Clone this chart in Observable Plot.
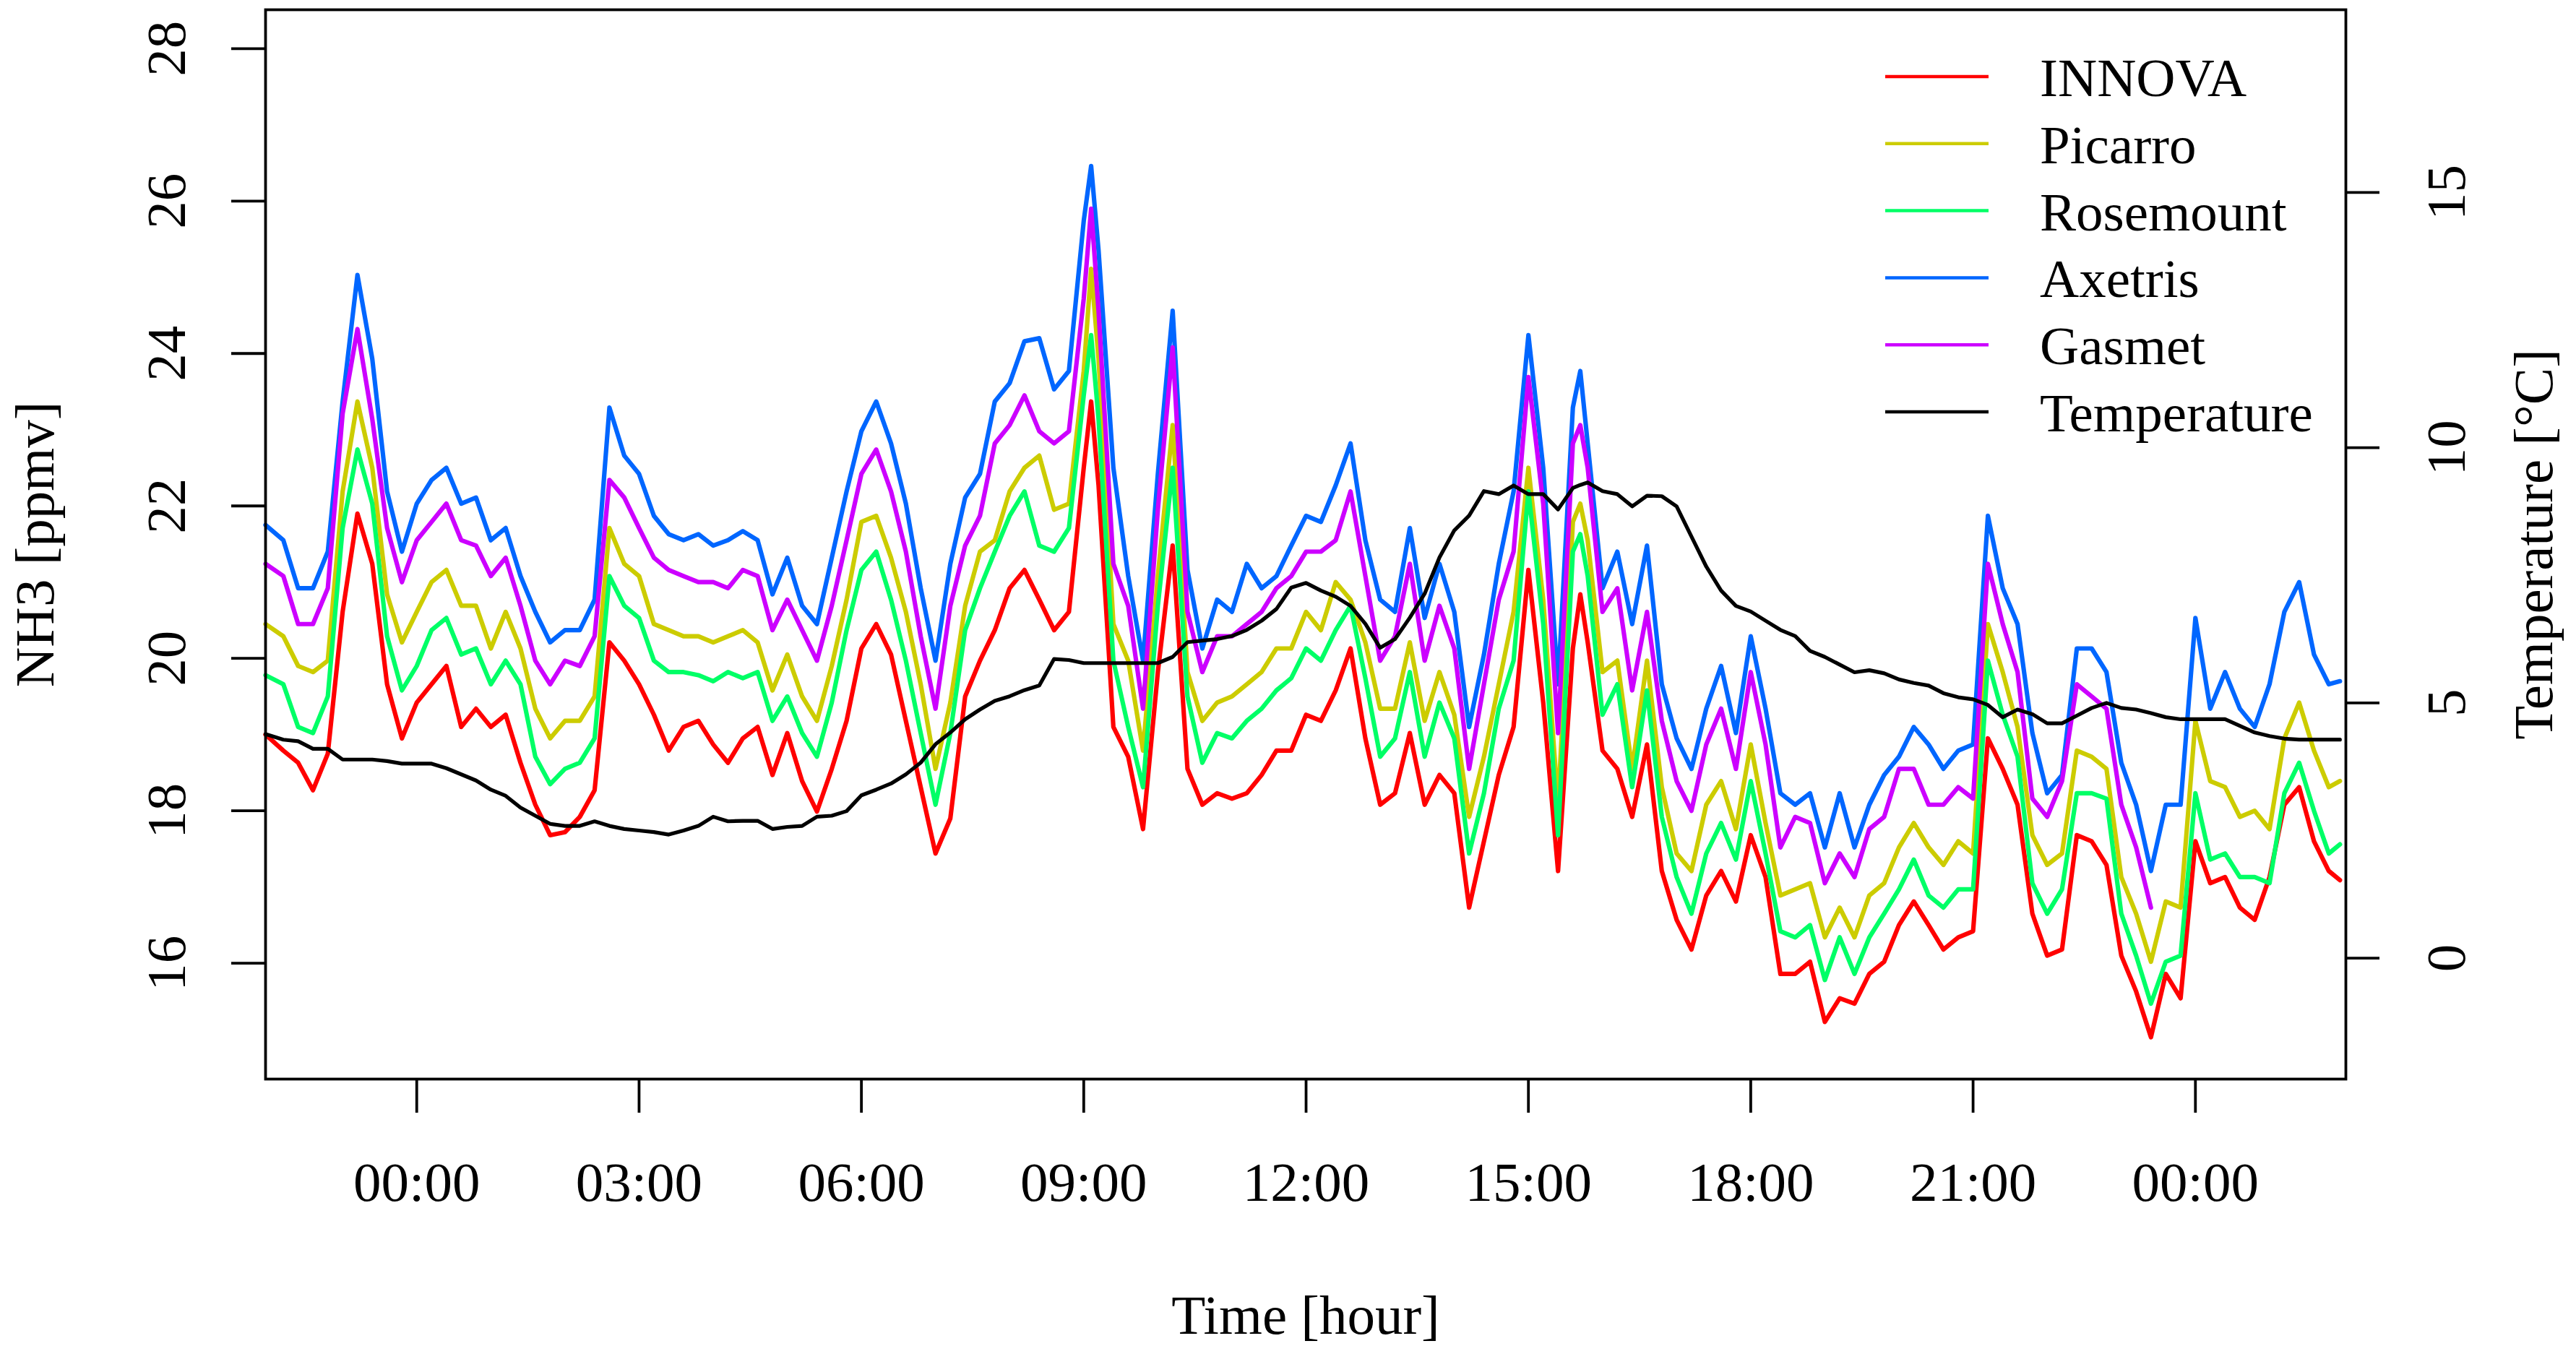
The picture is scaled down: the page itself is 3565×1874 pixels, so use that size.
<!DOCTYPE html>
<html>
<head>
<meta charset="utf-8">
<script src="https://cdn.jsdelivr.net/npm/d3@7"></script>
<script src="https://cdn.jsdelivr.net/npm/@observablehq/plot@0.6"></script>
<style>
  html, body { margin: 0; padding: 0; background: white; }
  #chart { width: 3565px; height: 1874px; }
</style>
</head>
<body>
<div id="chart"></div>
<script>
// Time in hours relative to the first midnight
const hours = [
  -2.04,-1.8,-1.6,-1.4,-1.2,-1.0,-0.8,-0.6,-0.4,-0.2,0,0.2,0.4,0.6,0.8,1.0,1.2,1.4,1.6,1.8,2.0,2.2,2.4,2.6,
  2.8,3.0,3.2,3.4,3.6,3.8,4.0,4.2,4.4,4.6,4.8,5.0,5.2,5.4,5.6,5.8,6.0,6.2,6.4,6.6,6.8,7.0,7.2,
  7.4,7.6,7.8,8.0,8.2,8.4,8.6,8.8,9.0,9.1,9.2,9.4,9.6,9.8,10.0,10.2,10.4,10.6,10.8,11.0,11.2,11.4,11.6,11.8,12.0,
  12.2,12.4,12.6,12.8,13.0,13.2,13.4,13.6,13.8,14.0,14.2,14.4,14.6,14.8,15.0,15.2,15.4,15.6,15.7,15.8,16.0,16.2,16.4,16.6,
  16.8,17.0,17.2,17.4,17.6,17.8,18.0,18.2,18.4,18.6,18.8,19.0,19.2,19.4,19.6,19.8,20.0,20.2,20.4,20.6,20.8,21.0,21.2,21.4,
  21.6,21.8,22.0,22.2,22.4,22.6,22.8,23.0,23.2,23.4,23.6,23.8,24.0,24.2,24.4,24.6,24.8,25.0,25.2,25.4,25.6,25.8,25.95
];

const innova = [
  19.0,18.79,18.63,18.27,18.75,20.61,21.9,21.24,19.66,18.95,19.42,19.66,19.9,19.1,19.34,19.1,19.26,18.63,18.08,17.68,17.72,17.92,18.27,20.21,
  19.97,19.66,19.26,18.79,19.1,19.18,18.87,18.63,18.95,19.1,18.47,19.02,18.39,17.99,18.55,19.18,20.13,20.45,20.05,19.18,18.31,17.44,17.9,
  19.5,19.97,20.37,20.92,21.16,20.77,20.37,20.61,22.5,23.37,22.27,19.1,18.71,17.76,19.82,21.48,18.55,18.08,18.23,18.16,18.23,18.47,18.79,18.79,19.26,
  19.18,19.58,20.13,18.95,18.08,18.23,19.02,18.08,18.47,18.23,16.73,17.6,18.47,19.1,21.16,19.42,17.21,20.13,20.84,20.21,18.79,18.55,17.92,18.87,
  17.21,16.57,16.18,16.89,17.21,16.81,17.68,17.13,15.86,15.86,16.02,15.23,15.54,15.47,15.86,16.02,16.5,16.81,16.5,16.18,16.34,16.42,18.95,18.55,
  18.08,16.65,16.1,16.18,17.68,17.6,17.29,16.1,15.63,15.03,15.86,15.54,17.6,17.05,17.13,16.73,16.57,17.13,18.08,18.31,17.6,17.21,17.09
];

const picarro = [
  20.45,20.29,19.9,19.82,19.97,22.19,23.37,22.5,20.84,20.21,20.61,21.0,21.16,20.69,20.69,20.13,20.61,20.13,19.34,18.95,19.18,19.18,19.5,21.71,
  21.24,21.08,20.45,20.37,20.29,20.29,20.21,20.29,20.37,20.21,19.58,20.05,19.5,19.18,19.9,20.77,21.79,21.87,21.32,20.61,19.66,18.55,19.42,
  20.69,21.40,21.55,22.19,22.5,22.66,21.95,22.03,23.77,25.11,23.93,20.45,19.97,18.79,21.08,23.06,19.82,19.18,19.42,19.5,19.66,19.82,20.13,20.13,20.61,
  20.37,21.0,20.77,20.21,19.34,19.34,20.21,19.18,19.82,19.26,17.92,18.71,19.66,20.61,22.5,20.77,18.08,21.79,22.03,21.55,19.82,19.97,18.55,19.97,
  18.31,17.44,17.21,18.08,18.39,17.76,18.87,17.84,16.89,16.97,17.05,16.34,16.73,16.34,16.89,17.05,17.52,17.84,17.52,17.29,17.6,17.44,20.45,19.82,
  19.1,17.68,17.29,17.44,18.79,18.71,18.55,17.13,16.65,16.02,16.81,16.73,19.18,18.39,18.31,17.92,18.0,17.76,18.95,19.42,18.79,18.31,18.39
];

const rosemount = [
  19.78,19.66,19.1,19.02,19.5,21.71,22.74,22.03,20.29,19.58,19.9,20.37,20.53,20.05,20.13,19.66,19.97,19.66,18.71,18.35,18.55,18.63,18.95,21.08,
  20.69,20.53,19.97,19.82,19.82,19.78,19.7,19.82,19.74,19.82,19.18,19.5,19.02,18.71,19.42,20.37,21.16,21.40,20.77,19.97,19.02,18.08,19.02,
  20.37,20.92,21.40,21.87,22.19,21.48,21.40,21.71,23.45,24.24,23.14,19.97,19.1,18.31,20.69,22.5,19.5,18.63,19.02,18.95,19.18,19.34,19.58,19.74,20.13,
  19.97,20.37,20.69,19.74,18.71,18.95,19.82,18.71,19.42,18.95,17.44,18.23,19.34,19.97,22.19,20.45,17.68,21.40,21.63,21.08,19.26,19.66,18.31,19.58,
  17.92,17.13,16.65,17.44,17.84,17.36,18.39,17.44,16.42,16.34,16.5,15.78,16.34,15.86,16.34,16.65,16.97,17.36,16.89,16.73,16.97,16.97,19.97,19.26,
  18.71,17.05,16.65,16.97,18.23,18.23,18.16,16.65,16.1,15.47,16.02,16.1,18.23,17.36,17.44,17.13,17.13,17.05,18.23,18.63,18.0,17.44,17.56
];

const axetris = [
  21.75,21.55,20.92,20.92,21.40,23.37,25.03,23.93,22.19,21.40,22.03,22.34,22.5,22.03,22.11,21.55,21.71,21.08,20.61,20.21,20.37,20.37,20.77,23.29,
  22.66,22.42,21.87,21.63,21.55,21.63,21.48,21.55,21.67,21.55,20.84,21.32,20.69,20.45,21.32,22.19,22.98,23.37,22.82,22.03,20.92,19.97,21.24,
  22.11,22.42,23.37,23.61,24.16,24.2,23.53,23.77,25.74,26.46,25.35,22.5,21.08,19.97,22.42,24.56,21.16,20.13,20.77,20.61,21.24,20.92,21.08,21.48,21.87,
  21.79,22.27,22.82,21.55,20.77,20.61,21.71,20.53,21.24,20.61,19.1,20.05,21.24,22.19,24.24,22.5,19.66,23.29,23.77,22.82,20.92,21.40,20.45,21.48,
  19.66,18.95,18.55,19.34,19.9,19.02,20.29,19.34,18.23,18.08,18.23,17.52,18.23,17.52,18.08,18.47,18.71,19.1,18.87,18.55,18.79,18.87,21.87,20.92,
  20.45,19.02,18.23,18.47,20.13,20.13,19.82,18.63,18.08,17.21,18.08,18.08,20.53,19.34,19.82,19.34,19.1,19.66,20.61,21.0,20.05,19.66,19.7
];

const gasmet = [
  21.24,21.08,20.45,20.45,20.92,23.21,24.32,23.14,21.71,21.0,21.55,21.79,22.03,21.55,21.48,21.08,21.32,20.69,19.97,19.66,19.97,19.9,20.29,22.34,
  22.11,21.71,21.32,21.16,21.08,21.0,21.0,20.92,21.16,21.08,20.37,20.77,20.37,19.97,20.69,21.55,22.42,22.74,22.19,21.40,20.29,19.34,20.69,
  21.48,21.87,22.82,23.06,23.45,22.98,22.82,22.98,24.72,25.9,24.56,21.24,20.69,19.34,21.95,24.08,20.61,19.82,20.29,20.29,20.45,20.61,20.92,21.08,21.40,
  21.40,21.55,22.19,21.08,19.97,20.29,21.24,19.97,20.69,20.13,18.55,19.66,20.77,21.40,23.69,22.03,19.02,22.82,23.06,22.5,20.61,20.92,19.58,20.61,
  19.18,18.39,18.0,18.87,19.34,18.55,19.82,18.87,17.52,17.92,17.84,17.05,17.44,17.13,17.76,17.92,18.55,18.55,18.08,18.08,18.31,18.16,21.24,20.45,
  19.82,18.16,17.92,18.39,19.66,19.5,19.34,18.08,17.52,16.73,null,null,null,null,null,null,null,null,null,null,null,null,null
];

// Temperature in degrees C (right axis)
const temperature = [
  4.39,4.28,4.25,4.10,4.10,3.89,3.89,3.89,3.86,3.81,3.81,3.81,3.72,3.6,3.48,3.3,3.18,2.95,2.79,2.63,2.59,2.59,2.68,2.59,
  2.53,2.5,2.47,2.42,2.5,2.59,2.77,2.68,2.69,2.69,2.53,2.57,2.59,2.77,2.79,2.88,3.19,3.3,3.42,3.6,3.83,4.19,4.42,
  4.68,4.87,5.04,5.13,5.25,5.34,5.86,5.84,5.78,5.78,5.78,5.78,5.78,5.78,5.78,5.9,6.19,6.22,6.25,6.31,6.43,6.61,6.84,7.26,7.35,
  7.2,7.08,6.9,6.55,6.08,6.25,6.67,7.14,7.85,8.38,8.67,9.15,9.09,9.26,9.09,9.09,8.79,9.21,9.27,9.32,9.15,9.09,8.85,9.06,
  9.05,8.85,8.26,7.67,7.2,6.9,6.79,6.61,6.43,6.31,6.02,5.9,5.75,5.6,5.64,5.58,5.46,5.39,5.34,5.19,5.11,5.07,4.96,4.72,
  4.87,4.78,4.6,4.6,4.75,4.9,5.0,4.9,4.87,4.8,4.72,4.68,4.68,4.68,4.68,4.55,4.42,4.35,4.3,4.28,4.28,4.28,4.28
];

const seriesNames = ["INNOVA", "Picarro", "Rosemount", "Axetris", "Gasmet"];
const seriesColors = ["#FF0000", "#CCCC00", "#00FF66", "#0066FF", "#CC00FF"];
const seriesValues = [innova, picarro, rosemount, axetris, gasmet];

const xTickValues = [0, 3, 6, 9, 12, 15, 18, 21, 24];
const xTickLabels = ["00:00", "03:00", "06:00", "09:00", "12:00", "15:00", "18:00", "21:00", "00:00"];
const nh3Ticks = [16, 18, 20, 22, 24, 26, 28];
const tempTicks = [0, 5, 10, 15];

const xDomain = [-2.04, 26.03];
const nh3Domain = [14.48, 28.51];
const tempDomain = [-2.37, 18.58];

// map temperature onto the NH3 scale (secondary axis)
const k = (nh3Domain[1] - nh3Domain[0]) / (tempDomain[1] - tempDomain[0]);
const tempToNh3 = t => nh3Domain[0] + (t - tempDomain[0]) * k;
const tempTickPos = tempTicks.map(tempToNh3);

const rows = [];
seriesNames.forEach((name, s) => {
  seriesValues[s].forEach((v, i) => rows.push({name, t: hours[i], v}));
});
const tempRows = temperature.map((t, i) => ({t: hours[i], v: tempToNh3(t)}));

const FONT = "'Liberation Serif', 'Times New Roman', Times, serif";
const FS = 77;

const marks = [
  ...seriesNames.map((name, s) =>
    Plot.line(rows.filter(r => r.name === name), {
      x: "t", y: "v", stroke: seriesColors[s], strokeWidth: 6.2, strokeLinejoin: "round"
    })
  ),
  Plot.line(tempRows, {x: "t", y: "v", stroke: "black", strokeWidth: 5.2, strokeLinejoin: "round"}),
  Plot.frame({stroke: "black", strokeWidth: 3.8}),
  Plot.axisX(xTickValues, {
    tickSize: 47, tickPadding: 67, strokeWidth: 3.8, fontSize: FS, label: null,
    tickFormat: d => xTickLabels[xTickValues.indexOf(d)]
  }),
  Plot.axisY(nh3Ticks, {
    anchor: "left", tickSize: 47, tickPadding: 65, tickRotate: -90, strokeWidth: 3.8,
    fontSize: FS, label: null, tickFormat: d => String(d)
  }),
  Plot.axisY(tempTickPos, {
    anchor: "right", tickSize: 46, tickPadding: 118, tickRotate: -90, strokeWidth: 3.8,
    fontSize: FS, label: null, tickFormat: d => String(tempTicks[tempTickPos.indexOf(d)])
  }),
  Plot.text(["NH3 [ppmv]"], {text: d => d, frameAnchor: "left", dx: -294, rotate: -90,
    textAnchor: "middle", lineAnchor: "bottom", fontSize: FS, fill: "black"}),
  Plot.text(["Temperature [°C]"], {text: d => d, frameAnchor: "right", dx: 285, rotate: -90,
    textAnchor: "middle", lineAnchor: "bottom", fontSize: FS, fill: "black"}),
  Plot.text(["Time [hour]"], {text: d => d, frameAnchor: "bottom", dy: 352,
    textAnchor: "middle", lineAnchor: "bottom", fontSize: FS, fill: "black"})
];

const svg = Plot.plot({
  width: 3565,
  height: 1874,
  marginLeft: 367,
  marginRight: 319,
  marginTop: 13,
  marginBottom: 381,
  x: {domain: xDomain},
  y: {domain: nh3Domain},
  style: {fontFamily: FONT, fontSize: FS + "px", background: "white", color: "black", overflow: "visible"},
  marks
});

// Legend (no box), drawn inside the plot area at the top right
const legendNames = [...seriesNames, "Temperature"];
const legendColors = [...seriesColors, "black"];
const lg = d3.select(svg).append("g")
  .attr("font-family", FONT).attr("font-size", 75).attr("text-anchor", "start");
legendNames.forEach((name, i) => {
  const y = 106 + 92.8 * i;
  lg.append("line").attr("x1", 2609).attr("x2", 2752).attr("y1", y).attr("y2", y)
    .attr("stroke", legendColors[i]).attr("stroke-width", 4.5);
  lg.append("text").attr("x", 2823).attr("y", y + 27).attr("fill", "black")
    .attr("text-anchor", "start").text(name);
});

document.getElementById("chart").appendChild(svg);
</script>
</body>
</html>
